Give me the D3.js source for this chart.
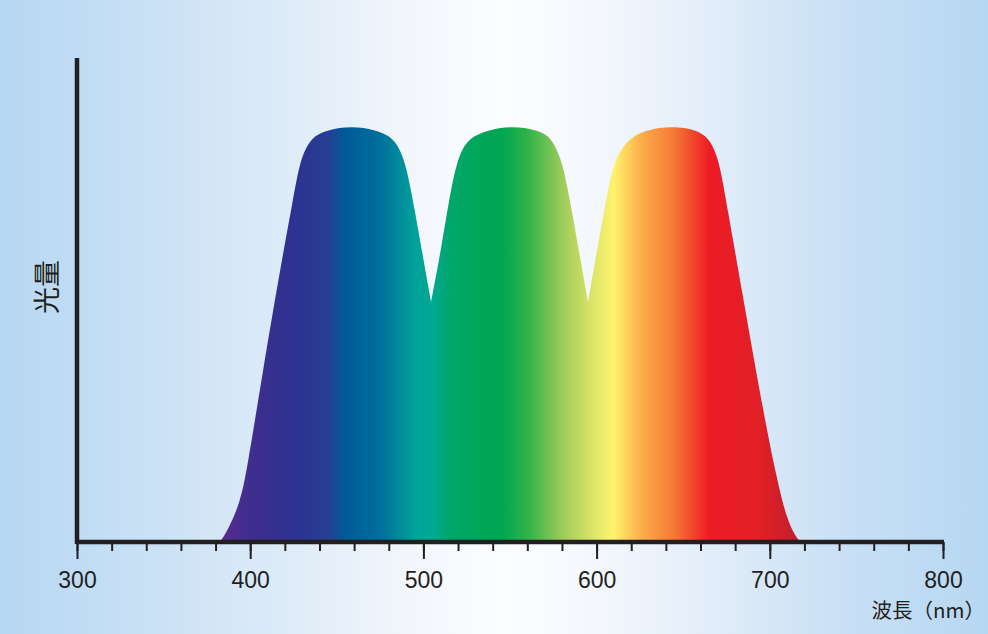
<!DOCTYPE html>
<html><head><meta charset="utf-8">
<script src="https://cdn.jsdelivr.net/npm/d3@7"></script>
<style>
html,body{margin:0;padding:0;background:#fff;}
svg{display:block;}
</style></head>
<body>
<svg id="chart" width="988" height="634"></svg>
<script>
// ---- data ----
const xTicksMajor = [300, 400, 500, 600, 700, 800];
const xTicksMinor = d3.range(300, 801, 20);
const xLabel = "波長（nm）";
const yLabel = "光量";
// relative light amount (0-100) vs wavelength (nm), three bands
const bandBlue = [[382.56,0],[387.18,2.89],[394.11,9.4],[398.15,17.35],[407.39,41.45],[417.21,65.54],[424.71,82.41],[428.75,92.05],[434.53,96.87],[440.3,98.55],[450.69,100],[466.28,100],[476.7,98.55],[483.6,96.87],[489.38,92.05],[493.99,82.41],[504.39,57.83]];
const bandGreen = [[504.39,57.83],[510.16,70.36],[514.78,82.41],[519.4,92.05],[525.17,96.87],[533.26,98.55],[543.65,100],[559.24,100],[569.63,98.55],[574.25,96.87],[580.02,92.05],[584.64,82.41],[595.03,57.83]];
const bandRed = [[595.03,57.83],[605.43,82.41],[610.05,92.05],[618.1,96.87],[625.06,98.55],[634.87,100],[652.19,100],[660.28,98.55],[665.47,96.87],[670.67,92.05],[674.71,82.41],[686.84,53.49],[696.07,31.81],[704.16,14.94],[709.93,5.3],[715.7,0.72],[718.01,0]];
// spectrum colours by wavelength
const specNm = [380,400,425,445,455,475,495,505,515,530,545,560,580,600,610,625,645,665,695,718];
const specColor = ["#5e2a8e","#3f2e8e","#2e3192","#263f93","#005b97","#006f9c","#00a19a","#00a993","#00a66c","#00a65a","#00a651","#2db34a","#9ccb59","#e2e86a","#fff36d","#fbb14b","#f47835","#ed1c24","#e11f26","#be1e2d"];

// ---- layout ----
const svg = d3.select("#chart");
const W = 988, H = 634;
const x = d3.scaleLinear().domain([300, 800]).range([77, 943]);
const y = d3.scaleLinear().domain([0, 116.6]).range([542, 58]);

const defs = svg.append("defs");
const bg = defs.append("linearGradient").attr("id","bg").attr("x1","0").attr("x2","1").attr("y1","0").attr("y2","0");
[[0,"#b6d7f2"],[0.15,"#c9e1f5"],[0.3,"#dfecf8"],[0.42,"#f3f7fc"],[0.51,"#fcfdff"],[0.6,"#f4f8fd"],[0.72,"#e2edf9"],[0.85,"#c9e0f5"],[1,"#b6d7f2"]]
  .forEach(s => bg.append("stop").attr("offset", s[0]).attr("stop-color", s[1]));
svg.append("rect").attr("width", W).attr("height", H).attr("fill", "url(#bg)");

const spec = defs.append("linearGradient").attr("id","spec").attr("gradientUnits","userSpaceOnUse")
  .attr("x1", x(specNm[0])).attr("x2", x(specNm[specNm.length-1])).attr("y1", 0).attr("y2", 0);
const span = specNm[specNm.length-1] - specNm[0];
specNm.forEach((n,i) => spec.append("stop").attr("offset", (n - specNm[0]) / span).attr("stop-color", specColor[i]));

// build one path: three smooth segments joined with sharp dips
const line = d3.line().x(d => x(d[0])).y(d => y(d[1])).curve(d3.curveBasis);
let dPath = line(bandBlue);
[bandGreen, bandRed].forEach(b => { dPath += line(b).replace(/^M/, "L"); });
const last = bandRed[bandRed.length-1], first = bandBlue[0];
dPath += `L${x(last[0])},${y(0)}L${x(first[0])},${y(0)}Z`;
svg.append("path").attr("d", dPath).attr("fill", "url(#spec)");

// axes
const ink = "#231f20";
const gMinor = svg.append("g").attr("transform", `translate(0,${y(0)})`)
  .call(d3.axisBottom(x).tickValues(xTicksMinor).tickSize(9).tickSizeOuter(0).tickFormat(""));
gMinor.select(".domain").remove();
gMinor.selectAll("line").attr("stroke", ink).attr("stroke-width", 2);

const gMajor = svg.append("g").attr("transform", `translate(0,${y(0)})`)
  .call(d3.axisBottom(x).tickValues(xTicksMajor).tickSize(17).tickSizeOuter(0).tickPadding(13));
gMajor.select(".domain").remove();
gMajor.selectAll("line").attr("stroke", ink).attr("stroke-width", 2);
gMajor.selectAll("text").attr("fill", ink).attr("font-family", "'Liberation Sans', Arial, sans-serif").attr("font-size", 23);

svg.append("line").attr("x1", x(300)).attr("x2", x(800) + 1).attr("y1", y(0)).attr("y2", y(0))
  .attr("stroke", ink).attr("stroke-width", 4.5);
svg.append("line").attr("x1", x(300)).attr("x2", x(300)).attr("y1", y(116.6)).attr("y2", y(0) + 2)
  .attr("stroke", ink).attr("stroke-width", 4.5);

svg.append("text").attr("x", 985).attr("y", 618).attr("text-anchor", "end")
  .attr("font-family", "'Noto Sans CJK JP', sans-serif").attr("font-size", 20.5).attr("fill", ink).text(xLabel);
svg.append("text").attr("transform", "translate(57,287) rotate(-90)").attr("text-anchor", "middle")
  .attr("font-family", "'Noto Sans CJK JP', sans-serif").attr("font-size", 27).attr("fill", ink).text(yLabel);
</script>
</body></html>
